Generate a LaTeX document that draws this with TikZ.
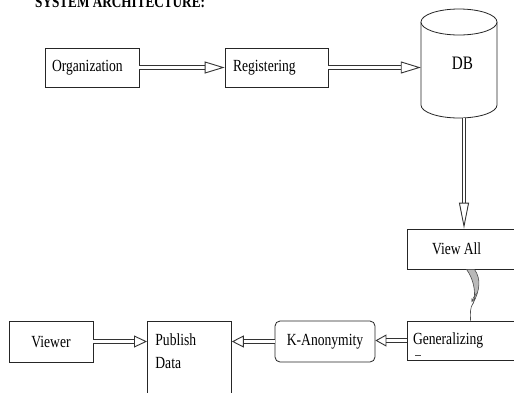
\documentclass[tikz,border=0pt]{standalone}
\usepackage{fontspec}
\setmainfont{Liberation Serif}[FakeStretch=0.8]
\usetikzlibrary{arrows.meta,calc}
\begin{document}
\begin{tikzpicture}[x=1pt,y=-1pt,
  box/.style={draw=black!85, line width=0.8pt, minimum height=39pt, inner ysep=0pt, font=\fontsize{17}{20}\selectfont},
  flow/.style={draw=black!80, line width=0.9pt, double=white, double distance=2.4pt},
  tiph/.style={-{Triangle[open, length=#1, width=12pt]}},
  squig/.style={draw=black!70, line width=0.6pt}]
\useasboundingbox (0,0) rectangle (514,392);
\fill[white] (0,0) rectangle (514,392);
\begin{scope}
\clip (0,0) rectangle (514,392);
\node[anchor=base west, inner sep=0pt, font=\bfseries\fontsize{16.5}{18}\selectfont] (title) at (35,7) {SYSTEM ARCHITECTURE:};
\node[box, text width=80pt, inner xsep=7pt, align=left] (org) at (92,67.5) {Organization};
\node[box, text width=87pt, inner xsep=8pt, align=left] (reg) at (276.5,67.5) {Registering};
\node[minimum width=76pt, minimum height=109pt, inner sep=0pt, font=\fontsize{19}{22}\selectfont] (db) at (459,63.5) {\raisebox{-9pt}{\hspace*{7pt}DB}};
\draw[draw=black!85, line width=0.8pt] (421,22) -- (421,105) arc[start angle=180, end angle=360, x radius=38pt, y radius=13pt] -- (497,22);
\draw[draw=black!85, line width=0.8pt, fill=white] (459,22) ellipse [x radius=38pt, y radius=13pt];
\node[box, minimum height=40pt, text width=63pt, inner xsep=25pt, align=left] (va) at (463.5,249) {View\hspace{-2.5pt} All};
\node[box, text width=101pt, inner xsep=6pt, align=left] (gen) at (463.5,340.5) {Generalizing};
\draw[black!70, line width=0.6pt] (415,355) -- (421,355);
\node[box, minimum height=41pt, minimum width=100pt, rounded corners=5pt] (kan) at (325,341.5) {K-Anonymity};
\node[box, minimum height=41pt, minimum width=84pt] (view) at (51,341.5) {Viewer};
\node[box, anchor=north west, inner xsep=8pt, inner ysep=12.4pt, align=left] (pub) at (147,321) {\parbox[t][75pt][t]{68pt}{Publish\\[3pt]Data}};
% connectors
\draw[flow, tiph=20pt] (org.east) -- (reg.west);
\draw[flow, tiph=20pt] (reg.east) -- (reg.east -| db.west);
\draw[flow, -{Triangle[open, length=26pt, width=10pt]}] ($(db.south)+(5,0)$) coordinate (d1) -- (d1 |- va.north);
\draw[flow, tiph=13pt] (view.east) -- (view.east -| pub.west);
\draw[flow, tiph=12pt] (kan.west) -- (kan.west -| pub.east);
\draw[flow, tiph=11pt] (gen.west) -- (gen.west -| kan.east);
% squiggle
\coordinate (q1) at ($(va.south)+(3,0)$);
\coordinate (q2) at ($(gen.north)+(7,0)$);
\draw[squig, fill=gray!55] (q1) -- ++(8,0) .. controls ++(7,10) and ++(6,-12) .. ($(q1)+(7,33)$) .. controls ++(3,-12) and ++(6,8) .. (q1) -- cycle;
\draw[squig, -{Stealth[length=4pt, width=3pt]}] ($(q1)+(10,24)$) .. controls ++(-3,4) .. ($(q1)+(5,33)$);
\draw[squig] ($(q1)+(7,33)$) .. controls ++(-4,6) and ++(0,-8) .. (q2);
\end{scope}
\end{tikzpicture}
\end{document}
